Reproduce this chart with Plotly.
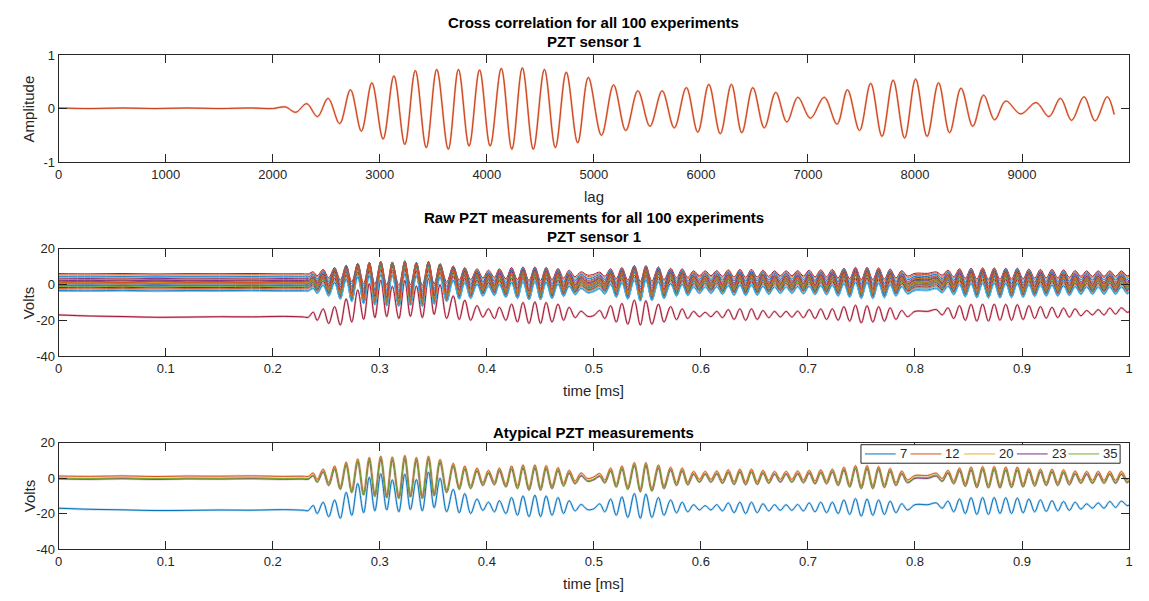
import plotly.graph_objects as go

FONT = "Liberation Sans, Arial, sans-serif"
INK = "#262626"
# the page adds an 8px body margin, so the figure is drawn 16px smaller and
# every target pixel position is shifted back by that margin
W, H = 1133, 585
OX, OY = 8, 8

# ---- cross correlation, PZT sensor 1 (all 100 experiments lie on top of each other)
xc_lag = [0, 300, 600, 900, 1200, 1500, 1800, 2000,
          2117, 2215, 2317, 2418, 2517, 2625, 2726, 2828, 2926, 3031,
          3132, 3234, 3332, 3434, 3532, 3640, 3735, 3834, 3932, 4031,
          4135, 4234, 4332, 4434, 4538, 4640, 4742, 4849, 4948,
          5071, 5184, 5298, 5411, 5524, 5638, 5751, 5864, 5971, 6074,
          6181, 6285, 6382, 6485, 6592, 6699, 6803, 6906, 7023, 7152,
          7272, 7369, 7482, 7586, 7692, 7796, 7903, 8006, 8113, 8220,
          8323, 8430, 8540, 8641, 8744, 8848, 8987, 9132, 9252, 9359,
          9463, 9579, 9683, 9796, 9861]
xc_amp = [0.01, 0.0, 0.01, 0.0, 0.01, 0.0, 0.01, 0.0,
          0.03, -0.07, 0.09, -0.15, 0.19, -0.28, 0.35, -0.42, 0.48, -0.57,
          0.61, -0.67, 0.71, -0.73, 0.73, -0.76, 0.73, -0.70, 0.72, -0.70,
          0.75, -0.76, 0.76, -0.76, 0.73, -0.73, 0.68, -0.64, 0.58,
          -0.50, 0.44, -0.41, 0.33, -0.33, 0.33, -0.36, 0.39, -0.44, 0.45,
          -0.47, 0.45, -0.45, 0.39, -0.36, 0.30, -0.25, 0.21, -0.18, 0.21,
          -0.29, 0.35, -0.41, 0.47, -0.52, 0.53, -0.55, 0.55, -0.52, 0.48,
          -0.45, 0.38, -0.33, 0.25, -0.21, 0.14, -0.10, 0.11, -0.15, 0.19,
          -0.22, 0.22, -0.23, 0.22, -0.11]

# ---- raw PZT signal: turning points of a typical experiment and of experiment 7
pzt_t = [0.0, 0.03, 0.06, 0.09, 0.12, 0.15, 0.18, 0.21, 0.228,
         0.2332, 0.2378, 0.2415, 0.2471, 0.2523, 0.2578, 0.2631, 0.2686, 0.2738, 0.2794, 0.2849, 0.2902, 0.2954,
         0.3009, 0.3065, 0.3117, 0.3178, 0.3234, 0.3286, 0.3342, 0.3397, 0.3455, 0.3508, 0.3563, 0.3625,
         0.3686, 0.3742, 0.3794, 0.3849, 0.3908, 0.3963,
         0.4015, 0.4071, 0.4117, 0.4178, 0.4231, 0.4286, 0.4338, 0.4394, 0.4449, 0.4502, 0.4554, 0.4609,
         0.4665, 0.4717, 0.4769, 0.4825, 0.4880, 0.4942,
         0.5000, 0.5055, 0.5102, 0.5157, 0.5209, 0.5262, 0.5317, 0.5378, 0.5434, 0.5486, 0.5542, 0.5603,
         0.5655, 0.5717, 0.5772, 0.5825, 0.5877, 0.5932, 0.5986,
         0.6040, 0.6094, 0.6148, 0.6202, 0.6256, 0.6310, 0.6364, 0.6418, 0.6472, 0.6526, 0.6580, 0.6634,
         0.6688, 0.6742, 0.6796, 0.6850, 0.6904, 0.6958,
         0.7012, 0.7066, 0.7120, 0.7174, 0.7228, 0.7282, 0.7336, 0.7390, 0.7444, 0.7498, 0.7552, 0.7606,
         0.7660, 0.7714, 0.7768, 0.7822, 0.7876, 0.7930,
         0.8000, 0.8120,
         0.8200, 0.8254, 0.8308, 0.8362, 0.8416, 0.8470, 0.8524, 0.8578, 0.8632, 0.8686, 0.8740, 0.8794,
         0.8848, 0.8902, 0.8956, 0.9010, 0.9064, 0.9118, 0.9172, 0.9226, 0.9280, 0.9334, 0.9388, 0.9442,
         0.9496, 0.9550, 0.9604, 0.9658, 0.9712, 0.9766, 0.9820, 0.9874, 0.9928, 0.9982,
         1.0]
pzt_typ = [0.2, 0.0, 0.3, -0.1, 0.2, 0.1, 0.3, 0.0, 0.1,
           0.0, 1.9, -1.7, 4.1, -3.6, 5.9, -5.8, 8.1, -7.6, 9.8, -9.0, 10.7, -9.8,
           11.4, -10.5, 11.0, -10.9, 11.8, -10.1, 10.7, -10.9, 11.4, -9.4, 9.6, -7.6,
           7.4, -5.8, 5.9, -5.4, 4.7, -3.6,
           3.4, -3.2, 4.7, -4.5, 5.9, -5.4, 6.5, -6.3, 6.5, -6.3, 6.1, -5.4,
           5.0, -3.9, 3.4, -2.6, 1.9, -1.2,
           -0.3, 1.6, -2.1, 4.7, -4.5, 5.9, -5.8, 7.8, -7.2, 7.8, -6.8, 6.5,
           -5.4, 5.2, -3.6, 4.7, -3.2, 2.8, -1.7,
           2.8, -1.7, 3.0, -2.3, 3.7, -3.0, 4.1, -3.2, 4.1, -3.0, 3.4, -2.3,
           2.8, -1.7, 2.8, -1.7, 3.0, -2.0,
           3.4, -2.6, 3.7, -2.6, 4.1, -3.6, 5.2, -4.5, 6.1, -5.4, 6.1, -5.4,
           5.6, -4.8, 4.5, -3.6, 3.0, -2.0,
           0.5, 0.5,
           1.8, -1.2, 3.4, -2.6, 4.7, -4.1, 5.3, -4.8, 5.6, -5.0, 5.6, -5.0,
           5.3, -4.8, 5.3, -4.5, 4.5, -3.9, 4.1, -3.6, 4.1, -3.6, 3.7, -3.2,
           3.0, -2.3, 2.8, -2.3, 2.8, -2.3, 2.8, -2.3, 2.8, -2.0,
           -1.0]
pzt_exp7 = [-17.0, -17.6, -17.9, -18.3, -18.2, -18.0, -18.1, -17.8, -18.1,
            -18.3, -15.4, -20.0, -13.6, -21.8, -12.3, -22.7, -8.0, -21.0, -3.0, -19.5, 0.5, -18.5,
            2.5, -18.0, -1.0, -19.0, 2.3, -17.8, -0.8, -18.5, 3.5, -16.7, 0.0, -19.0,
            -6.3, -19.6, -8.7, -20.0, -11.8, -18.2,
            -13.6, -19.0, -12.7, -20.0, -10.9, -21.0, -10.0, -21.8, -9.6, -21.8, -10.0, -21.0,
            -10.9, -20.0, -12.7, -18.5, -14.9, -17.8,
            -17.3, -14.5, -19.0, -11.8, -21.0, -10.5, -22.2, -8.7, -22.7, -9.0, -22.2, -10.9,
            -21.0, -12.3, -19.6, -13.6, -19.0, -15.0, -18.0,
            -15.5, -18.0, -15.0, -18.5, -14.0, -19.5, -13.6, -20.0, -13.6, -19.5, -14.5, -18.5,
            -15.0, -18.2, -15.0, -18.2, -14.9, -18.5,
            -14.0, -19.0, -13.6, -19.5, -13.6, -20.0, -12.3, -20.5, -11.5, -21.5, -11.8, -21.0,
            -12.3, -20.5, -13.0, -19.5, -14.5, -18.0,
            -15.0, -15.0,
            -14.0, -17.0, -13.0, -19.0, -11.8, -20.0, -11.0, -20.5, -10.9, -20.5, -10.9, -20.0,
            -11.0, -20.0, -11.2, -19.6, -11.8, -19.0, -12.3, -18.8, -12.7, -18.5, -13.2, -18.2,
            -13.6, -17.5, -14.5, -17.0, -14.0, -17.0, -13.2, -16.5, -13.0, -15.5,
            -15.2]

# DC level, swing and colour of the other raw measurements (middle panel)
raw_offset = [6.0, 5.3, 4.6, 4.2, 3.4, 2.9, 2.4, 2.0, 1.6, 1.3, 1.0, 0.7, 0.4, 0.1,
              -0.2, -0.5, -0.9, -1.3, -1.8, -2.4, -2.9, -3.5, -3.9, 1.2, 0.6, 2.2, 0.9]
raw_gain = [0.6, 0.65, 0.7, 0.75, 0.8, 0.85, 0.9, 0.95, 1.0, 0.95, 1.0, 1.0, 0.95, 1.0,
            0.95, 1.0, 1.0, 0.95, 0.9, 0.85, 0.85, 0.8, 0.75, 1.0, 1.0, 0.9, 1.0]
raw_color = ["#A2142F", "#D95319", "#4DBEEE", "#0072BD", "#7E2F8E", "#D95319", "#77AC30",
             "#EDB120", "#0072BD", "#A2142F", "#77AC30", "#D95319", "#EDB120", "#7E2F8E",
             "#4DBEEE", "#D95319", "#0072BD", "#77AC30", "#A2142F", "#D95319", "#4DBEEE",
             "#0072BD", "#4DBEEE", "#EDB120", "#77AC30", "#7E2F8E", "#D95319"]

# atypical experiments (bottom panel)
atyp_names = ["7", "12", "20", "23", "35"]
atyp_color = ["#0072BD", "#D95319", "#EDB120", "#7E2F8E", "#77AC30"]
atyp_halo = ["#8CBCE3", "#EEB29A", "#F5D894", "#C3A0CA", "#BCD89B"]
atyp_offset = [None, 1.0, -0.3, -0.6, -0.2]
atyp_gain = [None, 1.0, 0.97, 0.98, 1.04]


def px(x):
    return (x - OX) / W


def py(y):
    return 1 - (y - OY) / H


fig = go.Figure()


def line(x, y, color, width, ax, opacity=1.0):
    fig.add_trace(go.Scatter(
        x=x, y=y, mode="lines", showlegend=False, opacity=opacity,
        line=dict(color=color, width=width, shape="spline", smoothing=1.0),
        xaxis="x" + ax, yaxis="y" + ax, hoverinfo="skip"))


# top: cross correlation
line(xc_lag, xc_amp, "#F4B9A2", 2.2, "")
line(xc_lag, xc_amp, "#D95319", 1.0, "")
line(xc_lag, xc_amp, "#A2142F", 0.5, "", opacity=0.6)

# middle: raw measurements
line(pzt_t, pzt_exp7, "#D98A98", 2.2, "2", opacity=0.6)
line(pzt_t, pzt_exp7, "#A2142F", 1.0, "2")
for off, g, c in zip(raw_offset, raw_gain, raw_color):
    line(pzt_t, [off + g * v for v in pzt_typ], c, 1.0, "2")

# bottom: atypical measurements
atyp_y = [pzt_exp7 if off is None else [off + g * v for v in pzt_typ]
          for off, g in zip(atyp_offset, atyp_gain)]
for ys, c in zip(atyp_y, atyp_halo):
    line(pzt_t, ys, c, 2.4, "3", opacity=0.55)
for ys, c in zip(atyp_y, atyp_color):
    line(pzt_t, ys, c, 1.0, "3")

axis = dict(showline=True, linecolor=INK, linewidth=1, mirror="allticks", ticks="inside",
            ticklen=8, tickwidth=1, tickcolor=INK, showgrid=False, zeroline=False,
            tickfont=dict(family=FONT, size=13, color=INK))

panels = {"": (49, 159), "2": (248, 358), "3": (447, 556)}

lay = {}
for k, (top, bot) in panels.items():
    lay["xaxis" + k] = dict(axis, domain=[px(55), px(1133)], anchor="y" + k)
    lay["yaxis" + k] = dict(axis, domain=[py(bot), py(top)], anchor="x" + k)

lag_ticks = list(range(0, 10001, 1000))
lay["xaxis"].update(range=[0, 10000], tickvals=lag_ticks, ticktext=[str(v) for v in lag_ticks])
lay["yaxis"].update(range=[-1, 1], tickvals=[-1, 0, 1], ticktext=["-1", "0", "1"])
for k in ("2", "3"):
    lay["xaxis" + k].update(range=[0, 1], tickvals=[i / 10 for i in range(11)],
                            ticktext=["0"] + ["0.%d" % i for i in range(1, 10)] + ["1"])
    lay["yaxis" + k].update(range=[-40, 20], tickvals=[-40, -20, 0, 20],
                            ticktext=["-40", "-20", "0", "20"])


def note(text, xpx, ypx, size=15, bold=False, angle=0, anchor="center"):
    return dict(text="<b>%s</b>" % text if bold else text, x=px(xpx), y=py(ypx),
                xref="paper", yref="paper", showarrow=False, textangle=angle,
                xanchor=anchor, yanchor="middle",
                font=dict(family=FONT, size=size, color="#000000" if bold else INK))


cx = (55 + 1133) / 2
annotations = [
    note("Cross correlation for all 100 experiments", cx, 16, bold=True),
    note("PZT sensor 1", cx, 35, bold=True),
    note("Raw PZT measurements for all 100 experiments", cx, 216, bold=True),
    note("PZT sensor 1", cx, 235, bold=True),
    note("Atypical PZT measurements", cx, 436, bold=True),
    note("lag", cx, 194),
    note("time [ms]", cx, 393),
    note("time [ms]", cx, 591),
    note("Amplitude", 25, 104, angle=-90),
    note("Volts", 25, 303, angle=-90),
    note("Volts", 25, 501, angle=-90),
]

# legend of the bottom panel: box, line samples and labels
shapes = [dict(type="rect", xref="paper", yref="paper", x0=px(863), x1=px(1124),
               y0=py(468), y1=py(449), line=dict(color=INK, width=1), fillcolor="white",
               layer="above")]
leg_x = [867, 913, 967, 1020, 1072]
for name, c, lx in zip(atyp_names, atyp_color, leg_x):
    shapes.append(dict(type="line", xref="paper", yref="paper", x0=px(lx), x1=px(lx + 31),
                       y0=py(458.5), y1=py(458.5), line=dict(color=c, width=1), layer="above"))
    annotations.append(note(name, lx + 33, 458.5, size=13, anchor="left"))

fig.update_layout(
    width=W, height=H, margin=dict(l=0, r=0, t=0, b=0),
    paper_bgcolor="white", plot_bgcolor="white",
    annotations=annotations, shapes=shapes, showlegend=False,
    **lay,
)

fig.write_html("out.html")
